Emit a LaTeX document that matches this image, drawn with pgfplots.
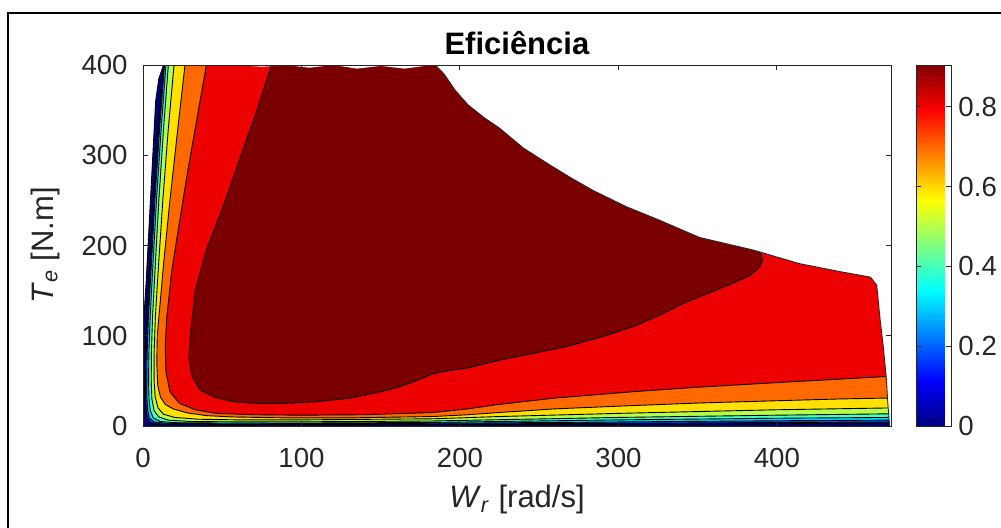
\documentclass[border=0pt]{standalone}
\usepackage{fontspec}
\setmainfont{Liberation Sans}
\usepackage{pgfplots}
\pgfplotsset{compat=1.18}
\definecolor{c0}{rgb}{0,0,0.5}
\definecolor{c1}{rgb}{0,0,0.94}
\definecolor{c2}{rgb}{0,0.38,1}
\definecolor{c3}{rgb}{0,0.83,1}
\definecolor{c4}{rgb}{0.27,1,0.73}
\definecolor{c5}{rgb}{0.71,1,0.29}
\definecolor{c6}{rgb}{1,0.88,0}
\definecolor{c7}{rgb}{1,0.41,0}
\definecolor{c8}{rgb}{0.93,0,0}
\definecolor{c9}{rgb}{0.48,0,0}
\definecolor{axgray}{rgb}{0.15,0.15,0.15}
\pgfplotsset{band/.style={draw=black, line width=0.45pt, mark=none}}
\begin{document}
\begin{tikzpicture}
\begin{axis}[
  at={(0,0)}, anchor=south west,
  scale only axis, width=374pt, height=180.5pt,
  xmin=0, xmax=472, ymin=0, ymax=400,
  axis on top,
  xtick={0,100,200,300,400}, xticklabels={0,100,200,300,400},
  ytick={0,100,200,300,400}, yticklabels={0,100,200,300,400},
  tick align=inside, xtick pos=both, ytick pos=both,
  major tick length=2.5pt,
  axis line style={axgray, line width=0.5pt},
  every tick/.style={axgray, line width=0.5pt},
  tick label style={font=\fontsize{13.8}{16}\selectfont, text=axgray, inner sep=0pt},
  xticklabel style={anchor=north, yshift=-11pt},
  yticklabel style={anchor=east, xshift=-7.5pt},
  title={\textbf{Eficiência}},
  title style={at={(axis description cs:0.5,1)}, anchor=base, yshift=-0.5pt, font=\fontsize{15.5}{18}\selectfont},
  xlabel={\textit{W}\textsubscript{\textit{r}} [rad/s]},
  xlabel style={at={(axis description cs:0.5,-0.2271)}, anchor=base, font=\fontsize{15.5}{18}\selectfont, text=axgray, inner sep=0pt},
  ylabel={\textit{T}\textsubscript{\textit{e}} [N.m]},
  ylabel style={at={(axis description cs:-0.1203,0.5)}, anchor=base, font=\fontsize{15.5}{18}\selectfont, text=axgray, inner sep=0pt},
  colorbar,
  colormap/jet,
  point meta min=0, point meta max=0.905,
  colorbar style={
    at={(parent axis.north east)}, anchor=north west, xshift=4pt,
    scale only axis, width=17.5pt, height=180.5pt,
    ytick={0,0.2,0.4,0.6,0.8}, yticklabels={0,0.2,0.4,0.6,0.8},
    tick align=inside, major tick length=2.5pt,
    axis line style={axgray, line width=0.5pt},
    every tick/.style={axgray, line width=0.5pt},
    yticklabel style={anchor=west, xshift=3.5pt, inner sep=0pt, font=\fontsize{13.8}{16}\selectfont, text=axgray},
  },
]
% domain (level 0)
\addplot[band, fill=c0] coordinates {(0,0) (0,105) (2,160) (5,260) (8,360) (10,385) (13,400) (185,400) (190,390) (197,372) (205,356) (215,342) (225,330) (240,308) (257,289) (270,275) (284,261) (305,243) (326,228) (351,209) (385,195) (414,180) (440,171) (459,165) (463,156) (465,120) (467,90) (469,54) (470,25) (471,3) (471,0)} -- cycle;
% level 0.1
\addplot[band, fill=c1] coordinates {(13,400) (9.5,330) (6.5,250) (4,170) (2.4,120) (1.4,80) (1.1,50) (1.1,30) (1.3,17) (1.8,9) (3,3) (10,1.2) (50,1) (300,1.8) (470,3) (495,3) (495,430) (13,430)} -- cycle;
% level 0.2
\addplot[band, fill=c2] coordinates {(13.2,400) (10,330) (7,250) (4.5,170) (2.9,120) (2,80) (1.7,50) (1.7,30) (2.1,17) (2.9,9) (5,4) (12,2.2) (50,1.8) (150,1.9) (300,3) (470,4.5) (495,4.5) (495,430) (13.2,430)} -- cycle;
% level 0.3
\addplot[band, fill=c3] coordinates {(13.6,400) (10.5,330) (7.5,250) (5,170) (3.4,120) (2.6,80) (2.4,50) (2.5,30) (3,17) (4,9) (7,4.5) (15,3) (50,2.5) (150,2.7) (225,3.5) (300,4.5) (400,5.8) (470,6.5) (495,6.5) (495,430) (13.6,430)} -- cycle;
% level 0.4
\addplot[band, fill=c4] coordinates {(14.5,400) (11.5,330) (8.5,250) (6,170) (4.5,120) (3.7,80) (3.5,50) (3.8,30) (4.6,17) (6.5,9) (11,5) (20,3.7) (50,3.3) (120,3.4) (183,4) (225,5) (300,6.8) (400,8.6) (470,9.5) (495,9.5) (495,430) (14.5,430)} -- cycle;
% level 0.5
\addplot[band, fill=c5] coordinates {(16,400) (13,330) (10,250) (7.5,170) (6,120) (5.3,80) (5.2,50) (5.6,30) (7,17) (10,10) (16,6.5) (30,5) (60,4.6) (120,4.8) (183,5.6) (225,7) (300,9.5) (400,12) (470,13.5) (495,13.5) (495,430) (16,430)} -- cycle;
% level 0.6
\addplot[band, fill=c6] coordinates {(19.6,400) (16,330) (12.5,250) (9.5,170) (7.8,120) (7,80) (7,50) (7.7,32) (9.5,20) (13,13) (20,9.5) (35,7.5) (60,6.8) (100,6.8) (183,8) (225,10.5) (300,14) (400,18) (470,20) (495,20) (495,430) (19.6,430)} -- cycle;
% level 0.7
\addplot[band, fill=c7] coordinates {(26.5,400) (22,330) (17,250) (13,180) (10.5,130) (9,100) (8.7,70) (9.3,45) (11,32) (14,24) (19,19) (28,14.5) (40,11.5) (57,10) (90,9) (130,9) (183,10.5) (205,12.5) (225,15) (260,19) (300,22) (351,25.5) (400,28) (440,30) (470,31) (495,31) (495,430) (26.5,430)} -- cycle;
% level 0.8
\addplot[band, fill=c8] coordinates {(40,400) (34,340) (28,280) (22,215) (18,170) (15,120) (14,90) (14.5,60) (17,38) (23,25) (33,18) (46,14) (70,12.5) (99,12) (140,12.5) (183,15) (205,19) (225,24) (260,31) (309,38) (350,43) (394,47.5) (430,51) (470,55) (495,55) (495,430) (40,430)} -- cycle;
% level 0.9
\addplot[band, fill=c9] coordinates {(81,400) (72,350) (63,306) (52,250) (40,195) (33,150) (30,103) (29,75) (31,55) (36,40) (45,32) (57,27) (72,25) (88,25) (110,27) (131,31) (150,38) (162,43.5) (175,52) (183,58) (195,62) (204,64) (225,73) (245,80) (267,88) (290,99) (309,110) (325,122) (341,136) (358,148) (372,158) (383,167) (389,176) (391,185) (389,193) (389,430) (81,430)} -- cycle;
% outside the domain
\addplot[draw=none, fill=white, mark=none] coordinates {(13,420) (13,400) (60,400) (75,398) (90,400) (105,397) (120,400) (135,396) (150,399) (165,396) (178,399) (185,399) (190,390) (197,372) (205,356) (215,342) (225,330) (240,308) (257,289) (270,275) (284,261) (305,243) (326,228) (351,209) (385,195) (414,180) (440,171) (459,165) (463,156) (465,120) (467,90) (469,54) (470,25) (471,3) (471,0) (495,0) (495,420)} -- cycle;
\addplot[draw=black!85, line width=0.45pt, mark=none] coordinates {(185,399) (190,390) (197,372) (205,356) (215,342) (225,330) (240,308) (257,289) (270,275) (284,261) (305,243) (326,228) (351,209) (385,195) (414,180) (440,171) (459,165) (463,156) (465,120) (467,90) (469,54) (470,25) (471,3) (471,0)};
\end{axis}
\draw[line width=1pt, black] (-67.5pt,206.5pt) rectangle (440pt,-60pt);
\pgfresetboundingbox
\path[use as bounding box] (-71.5pt,-50.5pt) rectangle (429pt,213pt);
\end{tikzpicture}
\end{document}
